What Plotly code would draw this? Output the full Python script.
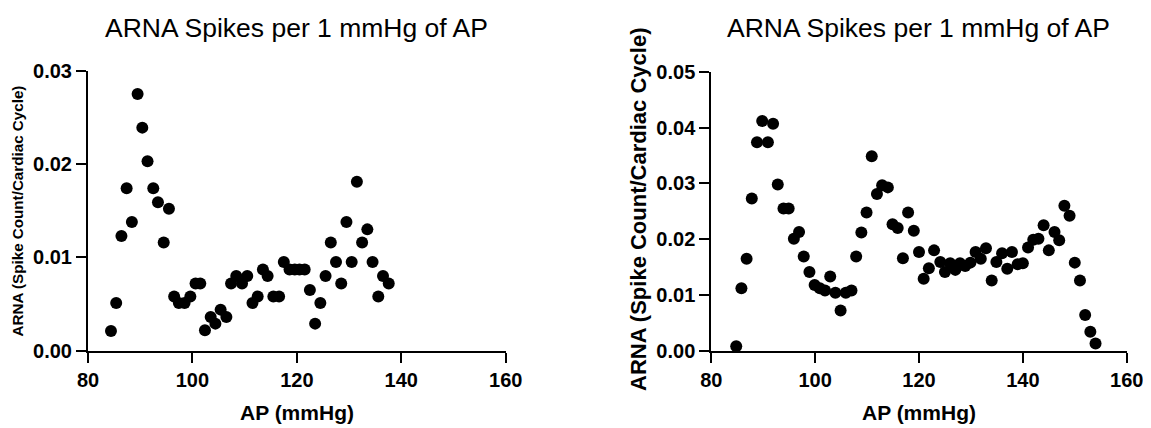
import plotly.graph_objects as go

# Left panel data
left_ap = [84.4, 85.4, 86.4, 87.4, 88.4, 89.5, 90.4, 91.4, 92.5, 93.4, 94.5, 95.5,
           96.5, 97.4, 98.5, 99.6, 100.6, 101.5, 102.4, 103.5, 104.4, 105.4, 106.5,
           107.4, 108.4, 109.5, 110.5, 111.5, 112.5, 113.5, 114.4, 115.5, 116.6,
           117.5, 118.6, 119.6, 120.5, 121.5, 122.5, 123.5, 124.5, 125.5, 126.5,
           127.5, 128.5, 129.5, 130.5, 131.5, 132.5, 133.5, 134.5, 135.6, 136.5, 137.6]
left_arna = [0.0021, 0.0051, 0.0123, 0.0174, 0.0138, 0.0275, 0.0239, 0.0203, 0.0174,
             0.0159, 0.0116, 0.0152, 0.0058, 0.0051, 0.0051, 0.0058, 0.0072, 0.0072,
             0.0022, 0.0036, 0.0029, 0.0044, 0.0036, 0.0072, 0.0080, 0.0072, 0.0080,
             0.0051, 0.0058, 0.0087, 0.0080, 0.0058, 0.0058, 0.0095, 0.0087, 0.0087,
             0.0087, 0.0087, 0.0065, 0.0029, 0.0051, 0.0080, 0.0116, 0.0095, 0.0072,
             0.0138, 0.0095, 0.0181, 0.0116, 0.0130, 0.0095, 0.0058, 0.0080, 0.0072]

# Right panel data
right_ap = [84.8, 85.8, 86.8, 87.8, 88.8, 89.8, 90.9, 91.9, 92.8, 93.9, 94.9, 95.9,
            96.9, 97.8, 98.9, 99.9, 100.9, 101.9, 102.9, 103.9, 104.9, 105.9, 107.0,
            107.9, 108.9, 109.9, 110.9, 111.9, 112.9, 114.0, 114.9, 115.9, 116.9,
            117.9, 119.0, 120.0, 120.9, 121.9, 122.9, 124.1, 125.0, 126.0, 127.0,
            127.9, 128.9, 129.9, 130.9, 131.9, 132.9, 134.0, 134.9, 136.0, 137.0,
            137.9, 139.0, 140.0, 141.0, 142.0, 143.0, 144.0, 145.0, 146.1, 147.0,
            148.0, 149.0, 150.0, 151.0, 152.0, 153.0, 154.0]
right_arna = [0.0008, 0.0112, 0.0165, 0.0273, 0.0374, 0.0412, 0.0374, 0.0407, 0.0298,
              0.0255, 0.0255, 0.0201, 0.0213, 0.0169, 0.0141, 0.0118, 0.0112, 0.0108,
              0.0133, 0.0104, 0.0072, 0.0104, 0.0108, 0.0169, 0.0212, 0.0248, 0.0349,
              0.0281, 0.0297, 0.0293, 0.0227, 0.0220, 0.0166, 0.0248, 0.0215, 0.0177,
              0.0129, 0.0148, 0.0180, 0.0159, 0.0141, 0.0157, 0.0145, 0.0157, 0.0152,
              0.0158, 0.0177, 0.0165, 0.0184, 0.0126, 0.0159, 0.0175, 0.0147, 0.0177,
              0.0155, 0.0157, 0.0185, 0.0199, 0.0201, 0.0225, 0.0180, 0.0213, 0.0198,
              0.0260, 0.0242, 0.0158, 0.0126, 0.0064, 0.0034, 0.0013]

x_ticks = [80, 100, 120, 140, 160]
left_y_ticks = [0.0, 0.01, 0.02, 0.03]
right_y_ticks = [0.0, 0.01, 0.02, 0.03, 0.04, 0.05]

title_text = "ARNA Spikes per 1 mmHg of AP"
x_title = "AP (mmHg)"
y_title = "ARNA (Spike Count/Cardiac Cycle)"

W, H = 1151, 428
OFF = 8  # default page body margin offsets the figure div
FONT = "Liberation Sans, Arial, Helvetica, sans-serif"

def px_x(p):
    return (p - OFF) / W

def px_y(p):
    return 1 - (p - OFF) / H

fig = go.Figure()
fig.add_trace(go.Scatter(x=left_ap, y=left_arna, mode="markers",
                         marker=dict(color="black", size=12),
                         xaxis="x", yaxis="y", cliponaxis=False, showlegend=False))
fig.add_trace(go.Scatter(x=right_ap, y=right_arna, mode="markers",
                         marker=dict(color="black", size=12),
                         xaxis="x2", yaxis="y2", cliponaxis=False, showlegend=False))

axis_common = dict(showgrid=False, zeroline=False, showline=True, linecolor="black",
                   linewidth=2, ticks="outside", ticklen=10, tickwidth=2,
                   tickcolor="black", automargin=False,
                   tickfont=dict(family=FONT, size=20, color="black", weight="bold"))

fig.update_layout(
    width=W, height=H,
    margin=dict(l=0, r=0, t=0, b=0, pad=0, autoexpand=False),
    showlegend=False,
    paper_bgcolor="white", plot_bgcolor="white",
    xaxis=dict(domain=[px_x(88), px_x(505.7)], range=[80, 160], tickvals=x_ticks,
               ticktext=[str(t) for t in x_ticks], anchor="y", **axis_common),
    yaxis=dict(domain=[px_y(350.7), px_y(70.7)], range=[0, 0.03], tickvals=left_y_ticks,
               ticktext=[f"{t:.2f}" for t in left_y_ticks], anchor="x", **axis_common),
    xaxis2=dict(domain=[px_x(711.3), px_x(1126.7)], range=[80, 160], tickvals=x_ticks,
                ticktext=[str(t) for t in x_ticks], anchor="y2", **axis_common),
    yaxis2=dict(domain=[px_y(350.7), px_y(72)], range=[0, 0.05], tickvals=right_y_ticks,
                ticktext=[f"{t:.2f}" for t in right_y_ticks], anchor="x2", **axis_common),
)

annotations = [
    dict(text=title_text, x=px_x(296), y=px_y(27.5), font=dict(family=FONT, size=26.5, color="black")),
    dict(text=title_text, x=px_x(918), y=px_y(27.5), font=dict(family=FONT, size=26.5, color="black")),
    dict(text=x_title, x=px_x(297), y=px_y(412), font=dict(family=FONT, size=21, color="black", weight="bold")),
    dict(text=x_title, x=px_x(919), y=px_y(412), font=dict(family=FONT, size=21, color="black", weight="bold")),
    dict(text=y_title, x=px_x(16.5), y=px_y(211), textangle=-90, font=dict(family=FONT, size=15.2, color="black", weight="bold")),
    dict(text=y_title, x=px_x(638), y=px_y(210), textangle=-90, font=dict(family=FONT, size=22, color="black", weight="bold")),
]
for a in annotations:
    a.update(xref="paper", yref="paper", xanchor="center", yanchor="middle", showarrow=False)
fig.update_layout(annotations=annotations)

fig.write_html("out.html")
